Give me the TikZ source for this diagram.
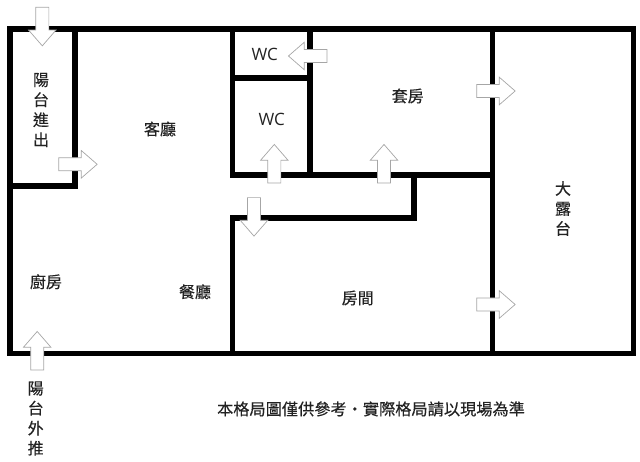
\documentclass[tikz,border=0pt]{standalone}
\usepackage{fontspec}
\usepackage{xcolor}
\setmainfont[FakeBold=0.3]{Noto Sans CJK TC}
\newfontfamily\wcfont{Open Sans}
\usetikzlibrary{shapes.arrows}

\definecolor{inkgray}{HTML}{222222}
\definecolor{doorgray}{HTML}{A6A6A6}

\begin{document}
\begin{tikzpicture}[
    x=1pt, y=-1pt,
    wall/.style={line width=5.7pt, draw=black, miter limit=10},
    door/.style={single arrow, draw=doorgray, fill=white, line width=0.7pt, inner xsep=0pt, inner ysep=6.2pt, anchor=tail,
        minimum height=38.5pt, single arrow head extend=7.2pt, single arrow tip angle=82},
    room/.style={inner sep=0pt, text=inkgray, font=\fontsize{16}{16}\selectfont},
    tallroom/.style={room, align=center, font=\fontsize{16}{20}\selectfont},
    wclabel/.style={inner sep=0pt, text=inkgray, font=\wcfont\fontsize{17}{17}\selectfont}
]
\useasboundingbox (0,0) rectangle (640,462);

\draw[wall] (10,29) -- (633.5,29) -- (633.5,353.5) -- (10,353.5) -- cycle;
\draw[wall] (10,186) -- (75,186) -- (75,29);
\draw[wall] (232.5,29) -- (232.5,175) -- (492.5,175);
\draw[wall] (310,29) -- (310,175);
\draw[wall] (232.5,78) -- (310,78);
\draw[wall] (492.5,29) -- (492.5,353.5);
\draw[wall] (414,175) -- (414,218) -- (232.5,218) -- (232.5,353.5);

\node[door, rotate=-90] (balconyin) at (42.3,7) {};
\node[door, rotate=0] (balconyout) at (58.3,164.3) {};
\node[door, rotate=180] (wcupper) at (327.3,56) {};
\node[door, rotate=90] (wclower) at (274.3,183.3) {};
\node[door, rotate=-90] (bedroomin) at (254,197.3) {};
\node[door, rotate=90] (suitein) at (384,183.3) {};
\node[door, rotate=0] (suiteout) at (476.3,91) {};
\node[door, rotate=0] (bedroomout) at (476.3,304.5) {};
\node[door, rotate=90] (kitchenout) at (37.2,370.3) {};

\node[tallroom] (balcony) at (41,110) {陽\\台\\進\\出};
\node[room] (living) at (160,129) {客廳};
\node[wclabel] (wcone) at (264.7,54.3) {WC};
\node[wclabel] (wctwo) at (271.7,119) {WC};
\node[room] (suite) at (407.7,96) {套房};
\node[tallroom] (terrace) at (563,208.5) {大\\露\\台};
\node[room] (kitchen) at (46,281.7) {廚房};
\node[room] (dining) at (195,291.7) {餐廳};
\node[room] (bedroom) at (357.7,298) {房間};
\node[tallroom] (balconyext) at (35.7,418.5) {陽\\台\\外\\推};
\node[room, font=\fontsize{16.2}{16}\selectfont] (notice) at (371,409) {本格局圖僅供參考\makebox[16.2pt]{·}實際格局請以現場為準};
\end{tikzpicture}
\end{document}
